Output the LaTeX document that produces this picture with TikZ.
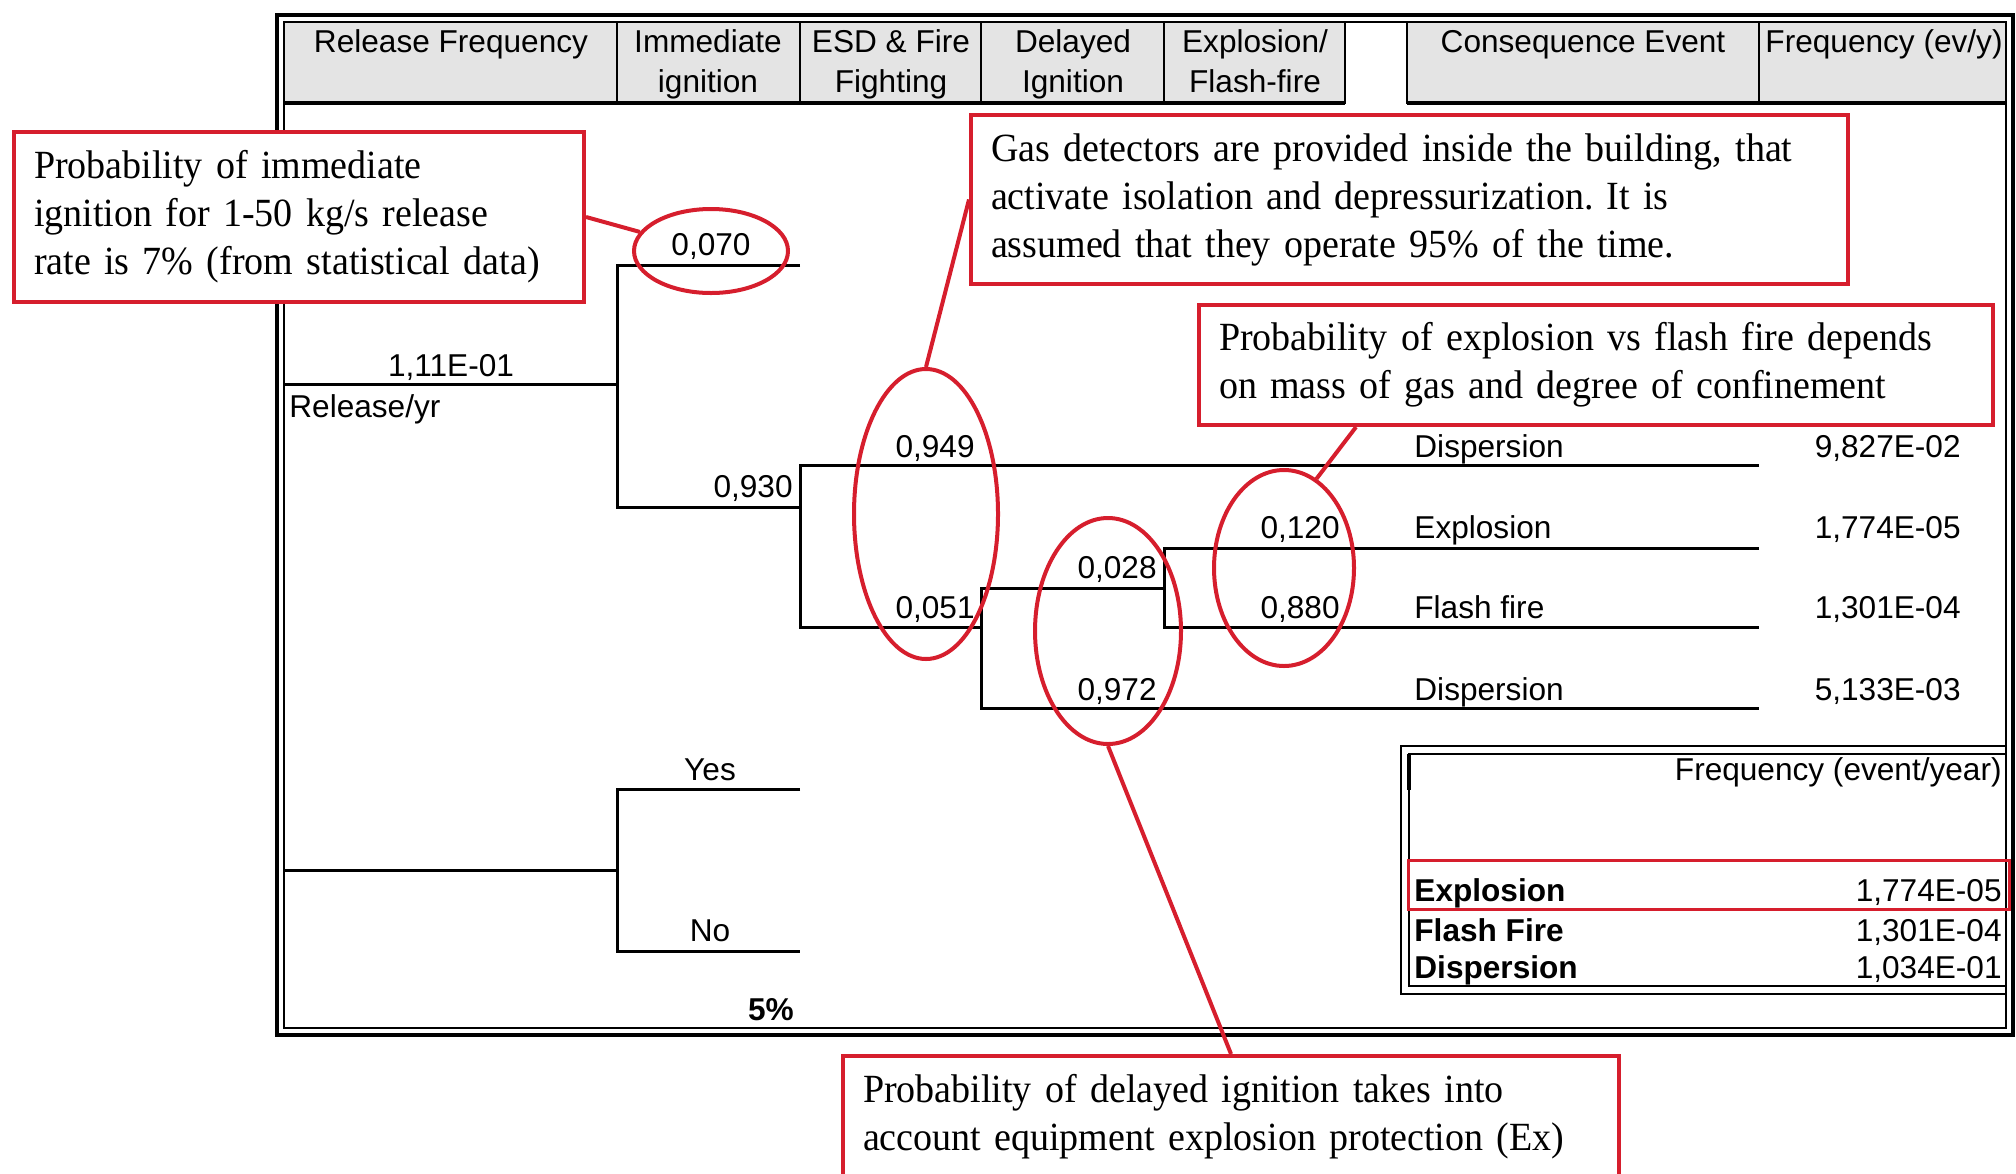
\documentclass[tikz,border=0pt]{standalone}
\usepackage{fontspec}
\setmainfont[FakeStretch=0.95]{Liberation Serif}
\setsansfont{Liberation Sans}
\usetikzlibrary{shapes.geometric,calc}
\definecolor{annred}{RGB}{214,30,45}
\definecolor{hdrgray}{RGB}{228,228,228}
\frenchspacing
\begin{document}
\begin{tikzpicture}[x=0.5pt,y=-0.5pt,
  br/.style={line width=1.5pt},
  hdr/.style={draw=black,fill=hdrgray,line width=1pt},
  lbl/.style={font=\sffamily\fontsize{15.8}{20}\selectfont,inner sep=0pt},
  blbl/.style={font=\sffamily\bfseries\fontsize{15.8}{20}\selectfont,inner sep=0pt},
  ann/.style={draw=annred,line width=2pt,fill=white,
    font=\rmfamily\fontsize{20}{24}\selectfont,align=left,
    inner xsep=10pt,inner ysep=0pt,anchor=north west},
  ring/.style={draw=annred,line width=2pt,ellipse,inner sep=0pt},
  lead/.style={draw=annred,line width=2pt}]
\useasboundingbox (0,0) rectangle (2016,1173);
% main double frame
\draw[line width=1.6pt] (277,15) rectangle (2013,1035);
\draw[line width=0.9pt] (284,22) rectangle (2006,1028);
% header cells
\foreach \a/\b in {284/617,617/800,800/981,981/1164,1164/1345,1407/1759,1759/2006}
  \draw[hdr] (\a,22) rectangle (\b,103);
\draw[line width=1.6pt] (284,103) -- (1345,103) (1407,103) -- (2006,103);
% header texts
\node[lbl,anchor=base] (h1) at (451,52) {Release Frequency};
\node[lbl,anchor=base] (h2a) at (708,52) {Immediate};
\node[lbl,anchor=base] (h2b) at (708,92) {ignition};
\node[lbl,anchor=base] (h3a) at (891,52) {ESD \& Fire};
\node[lbl,anchor=base] (h3b) at (891,92) {Fighting};
\node[lbl,anchor=base] (h4a) at (1073,52) {Delayed};
\node[lbl,anchor=base] (h4b) at (1073,92) {Ignition};
\node[lbl,anchor=base] (h5a) at (1255,52) {Explosion/};
\node[lbl,anchor=base] (h5b) at (1255,92) {Flash-fire};
\node[lbl,anchor=base] (h6) at (1583,52) {Consequence Event};
\node[lbl,anchor=base] (h7) at (1884,52) {Frequency (ev/y)};
% event tree
\coordinate (r0) at (284,384);
\coordinate (j1) at (617,384);
\draw[br] (r0) -- (j1);
\draw[br] (800,265) -- (617,265) -- (617,507) -- (800,507);
\draw[br] (1759,465) -- (800,465) -- (800,627) -- (981,627);
\draw[br] (1164,588) -- (981,588) -- (981,708) -- (1759,708);
\draw[br] (1759,548) -- (1164,548) -- (1164,627) -- (1759,627);
\node[lbl,anchor=base] (rf) at (451,376) {1,11E-01};
\node[lbl,anchor=base west] (ry) at (289,417) {Release/yr};
\node[lbl,anchor=base] (p070) at (711,255) {0,070};
\node[lbl,anchor=base east] (p930) at (793,497) {0,930};
\node[lbl,anchor=base east] (p949) at (975,457) {0,949};
\node[lbl,anchor=base east] (p051) at (975,618) {0,051};
\node[lbl,anchor=base east] (p028) at (1157,578) {0,028};
\node[lbl,anchor=base east] (p972) at (1157,700) {0,972};
\node[lbl,anchor=base east] (p120) at (1340,538) {0,120};
\node[lbl,anchor=base east] (p880) at (1340,618) {0,880};
\node[lbl,anchor=base west] (c1) at (1414,457) {Dispersion};
\node[lbl,anchor=base west] (c2) at (1414,538) {Explosion};
\node[lbl,anchor=base west] (c3) at (1414,618) {Flash fire};
\node[lbl,anchor=base west] (c4) at (1414,700) {Dispersion};
\node[lbl,anchor=base east] (f1) at (1961,457) {9,827E-02};
\node[lbl,anchor=base east] (f2) at (1961,538) {1,774E-05};
\node[lbl,anchor=base east] (f3) at (1961,618) {1,301E-04};
\node[lbl,anchor=base east] (f4) at (1961,700) {5,133E-03};
% legend tree
\draw[br] (284,870) -- (617,870);
\draw[br] (800,789) -- (617,789) -- (617,951) -- (800,951);
\node[lbl,anchor=base] (yes) at (710,780) {Yes};
\node[lbl,anchor=base] (no) at (710,941) {No};
\node[blbl,anchor=base] (pct) at (771,1020) {5\%};
% summary box
\draw[line width=1.4pt] (1401,746) rectangle (2006,994);
\draw[line width=0.8pt] (1409,754) rectangle (2006,986);
\draw[line width=1.8pt] (1409,754) -- (1409,790);
\node[lbl,anchor=base east] (sh) at (2002,780) {Frequency (event/year)};
\node[blbl,anchor=base west] (s1) at (1414,901) {Explosion};
\node[lbl,anchor=base east] (v1) at (2002,901) {1,774E-05};
\node[blbl,anchor=base west] (s2) at (1414,941) {Flash Fire};
\node[lbl,anchor=base east] (v2) at (2002,941) {1,301E-04};
\node[blbl,anchor=base west] (s3) at (1414,978) {Dispersion};
\node[lbl,anchor=base east] (v3) at (2002,978) {1,034E-01};
\node[draw=annred,line width=1.6pt,inner sep=0pt,anchor=north west,
  minimum width=300.5pt,minimum height=24.5pt] (hl) at (1407,859) {};
% ellipses
\node[ring,minimum width=77pt,minimum height=42pt] (E1) at (711,251) {};
\node[ring,minimum width=72pt,minimum height=145pt] (E2) at (926,514) {};
\node[ring,minimum width=73pt,minimum height=113pt] (E3) at (1108,631) {};
\node[ring,minimum width=70pt,minimum height=98pt] (E4) at (1284,568) {};
% annotation boxes
\node[ann,text width=265pt,minimum height=85pt] (A) at (12,130)
  {Probability of immediate\\ignition for 1-50 kg/s release\\rate is 7\% (from statistical data)};
\node[ann,text width=418.5pt,minimum height=84.5pt] (B) at (969,113)
  {Gas detectors are provided inside the building, that\\activate isolation and depressurization. It is\\assumed that they operate 95\% of the time.};
\node[ann,text width=377pt,minimum height=60pt] (C) at (1197,303)
  {Probability of explosion vs flash fire depends\\on mass of gas and degree of confinement};
\node[ann,text width=368pt,minimum height=60.5pt] (D) at (841,1054)
  {Probability of delayed ignition takes into\\account equipment explosion protection (Ex)};
% leaders
\draw[lead] (A.east) -- (E1.165);
\draw[lead] (B.west) -- (E2.north);
\draw[lead] ([xshift=79.5pt]C.south west) -- (E4.70);
\draw[lead] (E3.south) -- (D.north);
\end{tikzpicture}
\end{document}
